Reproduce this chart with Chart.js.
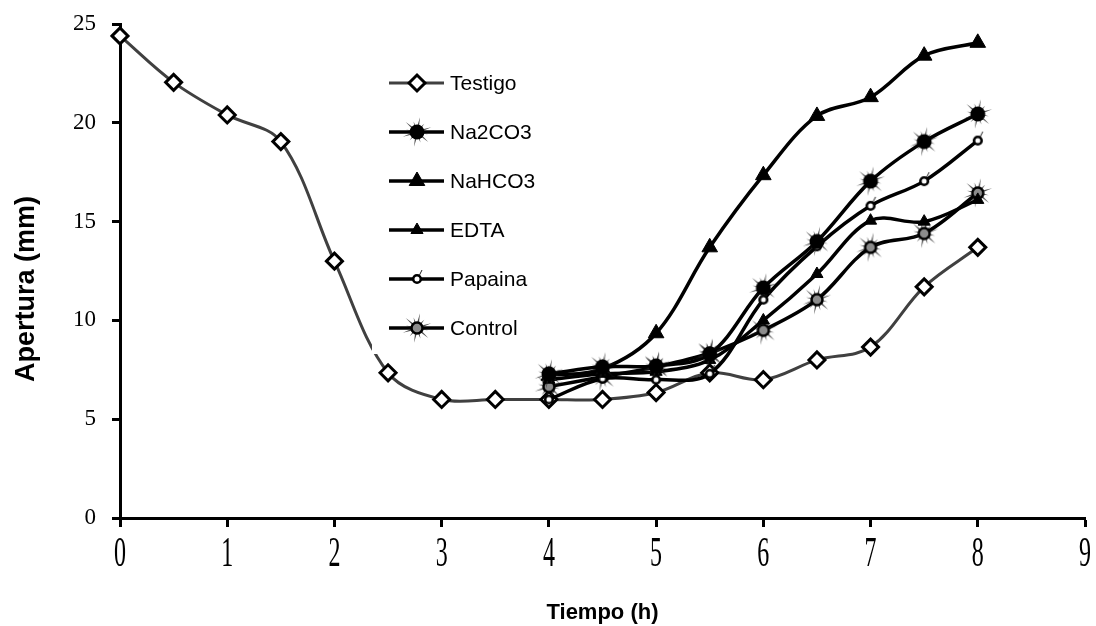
<!DOCTYPE html>
<html lang="es">
<head>
  <meta charset="UTF-8">
  <title>Apertura vs Tiempo</title>
  <script src="https://cdn.jsdelivr.net/npm/chart.js"></script>
  <style>
    body {
      margin: 0;
      padding: 0;
      background: #fff;
    }
    .chart-box {
      width: 1096px;
      height: 626px;
    }
  </style>
</head>
<body>
  <div class="chart-box">
    <canvas id="aperturaChart" width="1096" height="626"></canvas>
  </div>

  <script>
    // Datos
    const tiempoTestigo = [0, 0.5, 1, 1.5, 2, 2.5, 3, 3.5, 4, 4.5, 5, 5.5, 6, 6.5, 7, 7.5, 8];
    const tiempoTrat = [4, 4.5, 5, 5.5, 6, 6.5, 7, 7.5, 8];

    const testigo = [24.4, 22.05, 20.4, 19.05, 13.0, 7.35, 6.0, 6.0, 6.0, 6.0, 6.35, 7.35, 7.0, 8.0, 8.65, 11.7, 13.7];
    const na2co3 = [7.3, 7.65, 7.7, 8.3, 11.65, 14.0, 17.05, 19.05, 20.45];
    const nahco3 = [7.2, 7.55, 9.35, 13.7, 17.35, 20.35, 21.3, 23.4, 24.05];
    const edta = [7.0, 7.3, 7.4, 8.0, 10.0, 12.35, 15.05, 15.0, 16.1];
    const papaina = [6.0, 7.05, 7.0, 7.3, 11.05, 13.75, 15.8, 17.05, 19.1];
    const control = [6.65, 7.15, 7.65, 8.35, 9.5, 11.05, 13.7, 14.4, 16.45];

    const yTicks = [0, 5, 10, 15, 20, 25];
    const xTicks = [0, 1, 2, 3, 4, 5, 6, 7, 8, 9];
    const yTitle = 'Apertura (mm)';
    const xTitle = 'Tiempo (h)';

    function toPoints(xs, ys) {
      return xs.map((x, i) => ({ x: x, y: ys[i] }));
    }

    // marcadores con "rayos" (estilo Excel)
    function makeBurst(fill, radius, border) {
      const size = 34;
      const c = document.createElement('canvas');
      c.width = size;
      c.height = size;
      const g = c.getContext('2d');
      const m = size / 2;
      g.translate(m, m);
      for (let i = 0; i < 12; i++) {
        const a = i * Math.PI / 6 + 0.2;
        const len = (i % 2 === 0) ? 15 : 11;
        g.save();
        g.rotate(a);
        g.beginPath();
        g.moveTo(-1.4, 0);
        g.lineTo(0, -len);
        g.lineTo(1.4, 0);
        g.closePath();
        g.fillStyle = 'rgba(30,30,30,0.8)';
        g.fill();
        g.restore();
      }
      g.beginPath();
      g.arc(0, 0, radius, 0, Math.PI * 2);
      g.fillStyle = fill;
      g.fill();
      if (border) {
        g.lineWidth = 2.5;
        g.strokeStyle = '#000';
        g.stroke();
      }
      return c;
    }

    function makeOpenCircle() {
      const size = 20;
      const c = document.createElement('canvas');
      c.width = size;
      c.height = size;
      const g = c.getContext('2d');
      const m = size / 2;
      g.beginPath();
      g.moveTo(m + 2, m - 3);
      g.lineTo(m + 5, m - 9);
      g.strokeStyle = '#222';
      g.lineWidth = 1;
      g.stroke();
      g.beginPath();
      g.arc(m, m, 3.8, 0, Math.PI * 2);
      g.fillStyle = '#fff';
      g.fill();
      g.lineWidth = 2.6;
      g.strokeStyle = '#000';
      g.stroke();
      return c;
    }

    const burstNa2co3 = makeBurst('#000', 7.5, false);
    const burstControl = makeBurst('#8c8c8c', 5.5, true);
    const openCircle = makeOpenCircle();

    // leyenda dibujada dentro del area del grafico
    const legendInside = {
      id: 'legendInside',
      afterDatasetsDraw(chart) {
        const ctx = chart.ctx;
        ctx.save();
        ctx.fillStyle = '#fff';
        ctx.fillRect(372, 58, 175, 296);
        const startY = 83;
        const step = 49;
        chart.data.datasets.forEach((ds, i) => {
          const y = startY + i * step;
          ctx.beginPath();
          ctx.moveTo(389, y);
          ctx.lineTo(444, y);
          ctx.lineWidth = ds.borderWidth;
          ctx.strokeStyle = ds.borderColor;
          ctx.stroke();
          const ps = ds.pointStyle;
          if (typeof ps === 'string') {
            ctx.fillStyle = ds.pointBackgroundColor;
            ctx.strokeStyle = ds.pointBorderColor;
            ctx.lineWidth = ds.pointBorderWidth;
            Chart.helpers.drawPoint(ctx, {
              pointStyle: ps,
              radius: ds.pointRadius,
              borderWidth: ds.pointBorderWidth,
              rotation: 0
            }, 417, y);
          } else {
            ctx.drawImage(ps, 417 - ps.width / 2, y - ps.height / 2);
          }
          ctx.fillStyle = '#000';
          ctx.font = '21px "Liberation Sans", Arial, sans-serif';
          ctx.textAlign = 'left';
          ctx.textBaseline = 'middle';
          ctx.fillText(ds.label, 450, y + 1);
        });
        ctx.restore();
      }
    };

    // etiquetas del eje X (estiradas en vertical como en el original) y titulo Y
    const axisText = {
      id: 'axisText',
      afterDraw(chart) {
        const ctx = chart.ctx;
        const xs = chart.scales.x;
        ctx.save();
        ctx.fillStyle = '#000';
        ctx.font = '24px "Liberation Serif", "Times New Roman", serif';
        ctx.textAlign = 'center';
        ctx.textBaseline = 'middle';
        xTicks.forEach(v => {
          const px = xs.getPixelForValue(v);
          ctx.save();
          ctx.translate(px, 555);
          ctx.scale(1, 1.8);
          ctx.fillText(String(v), 0, 0);
          ctx.restore();
        });
        ctx.restore();

        ctx.save();
        ctx.fillStyle = '#000';
        ctx.font = 'bold 27px "Liberation Sans", Arial, sans-serif';
        ctx.textAlign = 'center';
        ctx.textBaseline = 'middle';
        ctx.translate(27, 289);
        ctx.rotate(-Math.PI / 2);
        ctx.fillText(yTitle, 0, 0);
        ctx.restore();
      }
    };

    const ctx = document.getElementById('aperturaChart').getContext('2d');
    const aperturaChart = new Chart(ctx, {
      type: 'line',
      data: {
        datasets: [{
          label: 'Testigo',
          data: toPoints(tiempoTestigo, testigo),
          borderColor: '#404040',
          borderWidth: 3,
          pointStyle: 'rectRot',
          pointRadius: 8,
          pointBackgroundColor: '#fff',
          pointBorderColor: '#000',
          pointBorderWidth: 3,
          order: 1
        }, {
          label: 'Na2CO3',
          data: toPoints(tiempoTrat, na2co3),
          borderColor: '#000',
          borderWidth: 3.5,
          pointStyle: burstNa2co3,
          order: 0
        }, {
          label: 'NaHCO3',
          data: toPoints(tiempoTrat, nahco3),
          borderColor: '#000',
          borderWidth: 3.5,
          pointStyle: 'triangle',
          pointRadius: 9,
          pointBackgroundColor: '#000',
          pointBorderColor: '#000',
          pointBorderWidth: 1,
          order: 0
        }, {
          label: 'EDTA',
          data: toPoints(tiempoTrat, edta),
          borderColor: '#000',
          borderWidth: 3.5,
          pointStyle: 'triangle',
          pointRadius: 7,
          pointBackgroundColor: '#000',
          pointBorderColor: '#000',
          pointBorderWidth: 1,
          order: 0
        }, {
          label: 'Papaina',
          data: toPoints(tiempoTrat, papaina),
          borderColor: '#000',
          borderWidth: 3.5,
          pointStyle: openCircle,
          order: 0
        }, {
          label: 'Control',
          data: toPoints(tiempoTrat, control),
          borderColor: '#000',
          borderWidth: 3.5,
          pointStyle: burstControl,
          order: 0
        }]
      },
      options: {
        responsive: false,
        animation: false,
        devicePixelRatio: 1,
        clip: 12,
        elements: {
          line: { tension: 0.35, fill: false }
        },
        layout: {
          padding: { left: 0, right: 9, top: 24, bottom: 0 }
        },
        plugins: {
          legend: { display: false },
          tooltip: { enabled: false }
        },
        scales: {
          x: {
            type: 'linear',
            min: 0,
            max: 9,
            afterBuildTicks(scale) {
              scale.ticks = xTicks.map(v => ({ value: v }));
            },
            afterFit(scale) {
              scale.height = 108;
            },
            border: { color: '#000', width: 3 },
            grid: {
              drawOnChartArea: false,
              drawTicks: true,
              tickLength: 9,
              tickColor: '#000',
              tickWidth: 3
            },
            ticks: { display: false },
            title: {
              display: true,
              text: xTitle,
              color: '#000',
              padding: { top: 0, bottom: 0 },
              font: { family: '"Liberation Sans", Arial, sans-serif', size: 22, weight: 'bold' }
            }
          },
          y: {
            min: 0,
            max: 25,
            afterBuildTicks(scale) {
              scale.ticks = yTicks.map(v => ({ value: v }));
            },
            afterFit(scale) {
              scale.width = 120;
            },
            border: { color: '#000', width: 3 },
            grid: {
              drawOnChartArea: false,
              drawTicks: true,
              tickLength: 8,
              tickColor: '#000',
              tickWidth: 3
            },
            ticks: {
              color: '#000',
              padding: 16,
              font: { family: '"Liberation Serif", "Times New Roman", serif', size: 23, lineHeight: 0.7 }
            },
            title: { display: false }
          }
        }
      },
      plugins: [legendInside, axisText]
    });
  </script>
</body>
</html>
